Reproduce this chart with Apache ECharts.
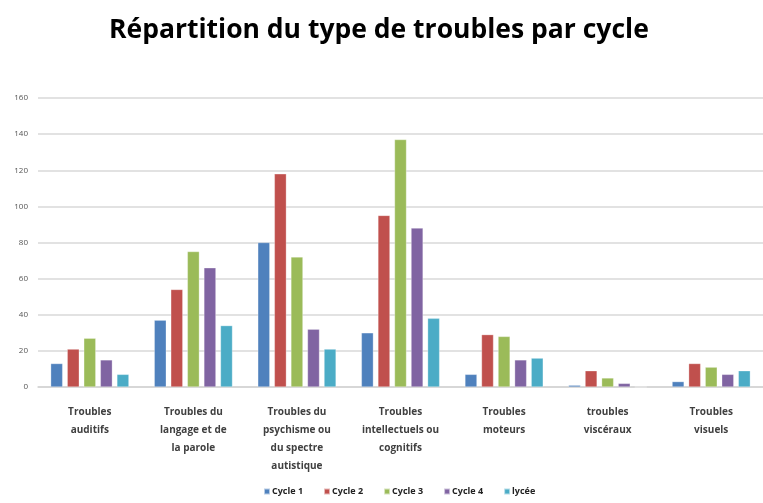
<!DOCTYPE html>
<html>
<head>
<meta charset="utf-8">
<script src="https://cdn.jsdelivr.net/npm/echarts@6/dist/echarts.min.js"></script>
<style>
  html, body { margin: 0; padding: 0; background: #fff; }
  #chart { width: 763px; height: 503px; }
</style>
</head>
<body>
<div id="chart"></div>
<script>
// types de troubles (axe des catégories)
const categories = [
  'Troubles\nauditifs',
  'Troubles du\nlangage et de\nla parole',
  'Troubles du\npsychisme ou\ndu spectre\nautistique',
  'Troubles\nintellectuels ou\ncognitifs',
  'Troubles\nmoteurs',
  'troubles\nviscéraux',
  'Troubles\nvisuels'
];

const cycle1 = [13, 37, 80, 30, 7, 1, 3];
const cycle2 = [21, 54, 118, 95, 29, 9, 13];
const cycle3 = [27, 75, 72, 137, 28, 5, 11];
const cycle4 = [15, 66, 32, 88, 15, 2, 7];
const lycee  = [7, 34, 21, 38, 16, 0, 9];

const seriesNames = ['Cycle 1', 'Cycle 2', 'Cycle 3', 'Cycle 4', 'lycée'];
const seriesData = [cycle1, cycle2, cycle3, cycle4, lycee];
const colors = ['#4F81BD', '#C0504D', '#9BBB59', '#8064A2', '#4BACC6'];

const chart = echarts.init(document.getElementById('chart'));

chart.setOption({
  animation: false,
  color: colors,
  title: {
    text: 'Répartition du type de troubles par cycle',
    left: 104,
    top: 12,
    textStyle: { fontFamily: 'Open Sans', fontWeight: 'bold', fontSize: 26.5, color: '#000' }
  },
  legend: {
    data: seriesNames,
    bottom: 2,
    left: 258,
    itemWidth: 6,
    itemHeight: 6,
    itemGap: 20,
    icon: 'rect',
    textStyle: { fontFamily: 'Open Sans', fontWeight: 'bold', fontSize: 9, color: '#222', padding: [0, 0, 0, -3] }
  },
  grid: { left: 38, top: 98, width: 728, height: 289 },
  xAxis: {
    type: 'category',
    data: categories,
    axisTick: { show: false },
    axisLine: { lineStyle: { color: '#d4d4d4', width: 1.5 } },
    axisLabel: {
      interval: 0,
      margin: 16,
      lineHeight: 18,
      fontFamily: 'Open Sans',
      fontWeight: 'bold',
      fontSize: 10,
      color: '#404040'
    }
  },
  yAxis: {
    type: 'value',
    min: 0,
    max: 160,
    interval: 20,
    axisLine: { show: false },
    axisTick: { show: false },
    axisLabel: { fontFamily: 'Open Sans', fontSize: 8, color: '#555', margin: 10 },
    splitLine: { lineStyle: { color: '#d9d9d9', width: 1.5 } }
  },
  series: seriesNames.map((name, i) => ({
    name: name,
    type: 'bar',
    data: seriesData[i],
    barWidth: 12,
    barGap: '38%',
    itemStyle: { borderColor: 'rgba(255,255,255,0.6)', borderWidth: 0.5 }
  }))
});
</script>
</body>
</html>
